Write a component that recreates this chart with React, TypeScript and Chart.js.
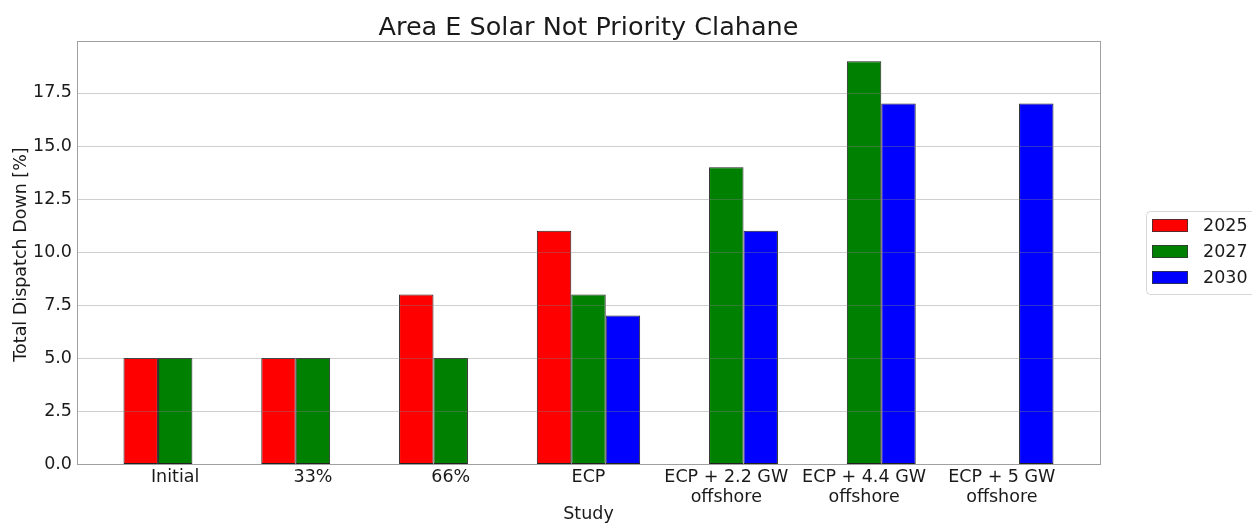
import React, { useEffect, useRef } from 'react';
import { Chart, registerables } from 'chart.js';

Chart.register(...registerables);

const chartTitle = 'Area E Solar Not Priority Clahane';
const xAxisTitle = 'Study';
const yAxisTitle = 'Total Dispatch Down [%]';
const categories: string[][] = [
  ['Initial'],
  ['33%'],
  ['66%'],
  ['ECP'],
  ['ECP + 2.2 GW', 'offshore'],
  ['ECP + 4.4 GW', 'offshore'],
  ['ECP + 5 GW', 'offshore'],
];
const years = ['2025', '2027', '2030'];
const values2025 = [5, 5, 8, 11, null, null, null];
const values2027 = [5, 5, 5, 8, 14, 19, null];
const values2030 = [null, null, null, 7, 11, 17, 17];
const seriesColors = ['#ff0000', '#008000', '#0000ff'];
const yTickValues = [0, 2.5, 5, 7.5, 10, 12.5, 15, 17.5];
const yMax = 19.95;

const FONT = '"DejaVu Sans", sans-serif';
const TEXT = '#1a1a1a';

const overlayPlugin = {
  id: 'overlay',
  afterDatasetsDraw(chart: any) {
    const { ctx, chartArea } = chart;
    const { left, right, top, bottom } = chartArea;
    const y = chart.scales.y;
    ctx.save();
    ctx.strokeStyle = 'rgba(128,128,128,0.38)';
    ctx.lineWidth = 1.2;
    yTickValues.forEach((v) => {
      const py = Math.round(y.getPixelForValue(v)) + 0.5;
      ctx.beginPath();
      ctx.moveTo(left, py);
      ctx.lineTo(right, py);
      ctx.stroke();
    });
    ctx.strokeStyle = '#a0a0a0';
    ctx.lineWidth = 1;
    ctx.strokeRect(Math.round(left) + 0.5, Math.round(top) + 0.5, Math.round(right - left), Math.round(bottom - top));
    ctx.restore();
  },
  afterDraw(chart: any) {
    const { ctx, chartArea } = chart;
    const { left, right, top, bottom } = chartArea;
    const cx = (left + right) / 2;
    ctx.save();
    ctx.fillStyle = TEXT;
    ctx.textAlign = 'center';
    ctx.textBaseline = 'middle';
    ctx.font = `25.5px ${FONT}`;
    ctx.fillText(chartTitle, cx, 28);
    ctx.font = `17.5px ${FONT}`;
    ctx.fillText(xAxisTitle, cx, 514);
    ctx.save();
    ctx.translate(21, (top + bottom) / 2 + 2);
    ctx.rotate(-Math.PI / 2);
    ctx.fillText(yAxisTitle, 0, 0);
    ctx.restore();

    // legend
    const lx = 1146.5;
    const ly = 211.5;
    const lw = 120;
    const lh = 83;
    const r = 4;
    ctx.strokeStyle = '#d6d6d6';
    ctx.lineWidth = 1;
    ctx.fillStyle = 'rgba(255,255,255,0.8)';
    ctx.beginPath();
    ctx.moveTo(lx + r, ly);
    ctx.lineTo(lx + lw - r, ly);
    ctx.arcTo(lx + lw, ly, lx + lw, ly + r, r);
    ctx.lineTo(lx + lw, ly + lh - r);
    ctx.arcTo(lx + lw, ly + lh, lx + lw - r, ly + lh, r);
    ctx.lineTo(lx + r, ly + lh);
    ctx.arcTo(lx, ly + lh, lx, ly + lh - r, r);
    ctx.lineTo(lx, ly + r);
    ctx.arcTo(lx, ly, lx + r, ly, r);
    ctx.closePath();
    ctx.fill();
    ctx.stroke();
    chart.data.datasets.forEach((ds: any, i: number) => {
      const cy = 225.5 + i * 26;
      ctx.fillStyle = ds.backgroundColor;
      ctx.fillRect(1152, cy - 6.5, 36, 13);
      ctx.strokeStyle = '#333';
      ctx.lineWidth = 0.8;
      ctx.strokeRect(1152.5, cy - 6, 35, 12);
      ctx.fillStyle = TEXT;
      ctx.textAlign = 'left';
      ctx.textBaseline = 'middle';
      ctx.font = `17.5px ${FONT}`;
      ctx.fillText(ds.label, 1203, cy + 1);
    });
    ctx.restore();
  },
};

const toPoints = (vals: (number | null)[]) => vals.map((v, i) => ({ x: i, y: v }));

export default function App() {
  const ref = useRef<HTMLCanvasElement>(null);
  useEffect(() => {
    if (!ref.current) return;
    const seriesValues = [values2025, values2027, values2030];
    const chart = new Chart(ref.current, {
      type: 'bar',
      data: {
        datasets: years.map((yr, i) => ({
          label: yr,
          data: toPoints(seriesValues[i]) as any,
          backgroundColor: seriesColors[i],
          borderColor: '#222',
          borderWidth: 1,
          borderSkipped: false,
          categoryPercentage: 0.75,
          barPercentage: 1,
        })),
      },
      options: {
        responsive: false,
        animation: false,
        layout: { padding: { top: 41, right: 152, bottom: 0, left: 0 } },
        plugins: {
          legend: { display: false },
          title: { display: false },
          tooltip: { enabled: false },
        },
        scales: {
          x: {
            type: 'linear',
            min: -0.7125,
            max: 6.7125,
            offset: false,
            grid: { display: false, drawTicks: false, tickLength: 0 },
            border: { display: false },
            afterBuildTicks: (scale: any) => {
              scale.ticks = categories.map((_, i) => ({ value: i }));
            },
            afterFit: (scale: any) => {
              scale.height = 60;
            },
            ticks: {
              autoSkip: false,
              maxRotation: 0,
              minRotation: 0,
              padding: 3,
              color: TEXT,
              font: { family: FONT, size: 17.5, lineHeight: 1.15 },
              callback: (v: any) => categories[Math.round(Number(v))] ?? '',
            },
          },
          y: {
            min: 0,
            max: yMax,
            grid: { display: false, drawTicks: false, tickLength: 0 },
            border: { display: false },
            afterBuildTicks: (scale: any) => {
              scale.ticks = yTickValues.map((v) => ({ value: v }));
            },
            afterFit: (scale: any) => {
              scale.width = 77;
            },
            ticks: {
              padding: 5,
              color: TEXT,
              font: { family: FONT, size: 17.5 },
              callback: (v: any) => Number(v).toFixed(1),
            },
          },
        },
      },
      plugins: [overlayPlugin],
    } as any);
    return () => chart.destroy();
  }, []);
  return (
    <div style={{ position: 'fixed', left: 0, top: 0, width: 1252, height: 524, background: '#fff' }}>
      <canvas ref={ref} width={1252} height={524} style={{ width: 1252, height: 524 }} />
    </div>
  );
}
